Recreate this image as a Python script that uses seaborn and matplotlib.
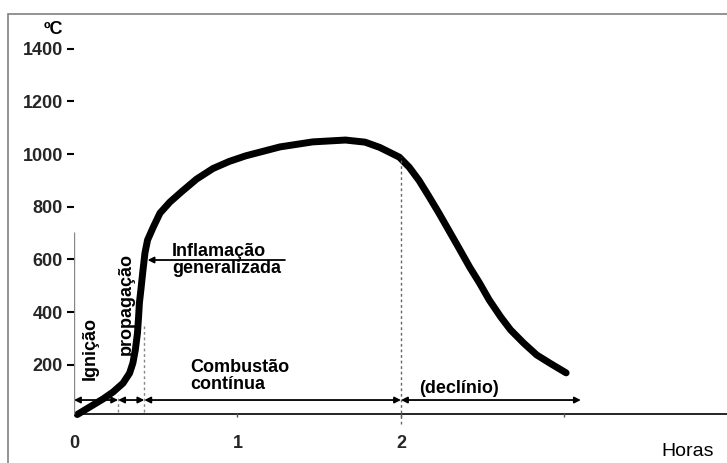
import numpy as np
import pandas as pd
import matplotlib
matplotlib.use("Agg")
import matplotlib.pyplot as plt
import seaborn as sns
from matplotlib.patches import Rectangle

# fire temperature curve (hours, degrees C)
hours = [0.02, 0.10, 0.18, 0.24, 0.30, 0.34, 0.36, 0.375, 0.388, 0.395,
         0.40, 0.41, 0.42, 0.434, 0.45, 0.485, 0.526, 0.587, 0.66, 0.75,
         0.85, 0.95, 1.05, 1.26, 1.46, 1.66, 1.78, 1.87, 1.99, 2.05,
         2.11, 2.17, 2.23, 2.35, 2.42, 2.48, 2.54, 2.61, 2.67, 2.75,
         2.83, 2.91, 3.01]
temp = [12, 42, 72, 98, 131, 169, 207, 257, 320, 382,
        435, 490, 549, 625, 674, 723, 776, 818, 858, 905,
        945, 972, 993, 1027, 1046, 1053, 1045, 1025, 988, 950,
        900, 840, 778, 648, 571, 511, 446, 382, 333, 283,
        238, 207, 170]

y_ticks = [200, 400, 600, 800, 1000, 1200, 1400]
x_ticks = [0, 1, 2]
hour_marks = [1, 2, 3]

# phase boundaries (hours)
phase_edges = [0.0, 0.27, 0.43, 2.0, 3.1]
phase_y = 67
baseline_y = 13

sns.set_style("white")
plt.rcParams['font.family'] = ['Liberation Sans', 'DejaVu Sans']

W, H = 727, 463
fig = plt.figure(figsize=(W / 100, H / 100), dpi=100)
ax = fig.add_axes([74 / W, (H - 425) / H, (W - 74) / W, (425 - 14) / H])
ax.set_xlim(0, (W - 74) / 163.5)
ax.set_ylim(-27.7, 1531)
for s in ax.spines.values():
    s.set_visible(False)

df = pd.DataFrame({'Horas': hours, 'Temp': temp})
sns.lineplot(data=df, x='Horas', y='Temp', sort=False, estimator=None,
             color='black', lw=5, ax=ax, solid_capstyle='round',
             solid_joinstyle='round')

ax.set_xlabel('')
ax.set_ylabel('')
ax.set_yticks(y_ticks)
ax.set_yticklabels([str(v) for v in y_ticks], fontsize=13, fontweight='bold')
ax.set_xticks(x_ticks)
ax.set_xticklabels([str(v) for v in x_ticks], fontsize=13, fontweight='bold')
ax.tick_params(axis='y', length=5, width=1.5, pad=3, color='black', left=True)
ax.tick_params(axis='x', length=0, pad=7)

# baseline and small hour marks
ax.axhline(baseline_y, color='black', lw=1.2)
ax.vlines(hour_marks, baseline_y - 12, baseline_y + 6, color='#555555', lw=1)

# guide lines
ax.vlines(0, baseline_y, 705, color='#888888', lw=1)
ax.vlines(phase_edges[1], 22, 86, color='#888888', lw=1, linestyles=(0, (2, 2)))
ax.vlines(phase_edges[2], 20, 360, color='#888888', lw=1, linestyles=(0, (2, 2)))
ax.vlines(phase_edges[3], -25, 990, color='#666666', lw=1, linestyles=(0, (2, 2)))

# phase arrows
for a, b in zip(phase_edges[:-1], phase_edges[1:]):
    ax.annotate('', xy=(a, phase_y), xytext=(b, phase_y),
                arrowprops=dict(arrowstyle='<|-|>', color='black', lw=1.3,
                                mutation_scale=9, shrinkA=0, shrinkB=0))

# labels
tk = dict(fontsize=13, fontweight='bold', color='black')
ax.text(0.098, 261, 'Ignição', rotation=90, ha='center', va='center', **tk)
ax.text(0.323, 431, 'propagação', rotation=90, ha='center', va='center', **tk)
ax.text(0.60, 598, 'Inflamação\ngeneralizada', ha='left', va='center',
        linespacing=1.0, **tk)
ax.annotate('', xy=(0.45, 598), xytext=(1.29, 598),
            arrowprops=dict(arrowstyle='-|>', color='black', lw=1.3,
                            mutation_scale=9, shrinkA=0, shrinkB=0))
ax.text(0.71, 160, 'Combustão\ncontínua', ha='left', va='center',
        linespacing=1.0, **tk)
ax.text(2.11, 112, '(declínio)', ha='left', va='center', **tk)
ax.text(-0.128, 1471, 'ºC', ha='center', va='center', clip_on=False, **tk)
ax.text(3.756, -130, 'Horas', ha='center', va='center', fontsize=14,
        color='black', clip_on=False)

# scanned frame
fig.patches.append(Rectangle((8 / W, -0.05), 1.2, (H - 14) / H + 0.05,
                             transform=fig.transFigure, fill=False,
                             edgecolor='#808080', lw=1.2))

fig.savefig('out.png', dpi=100, facecolor='white')
